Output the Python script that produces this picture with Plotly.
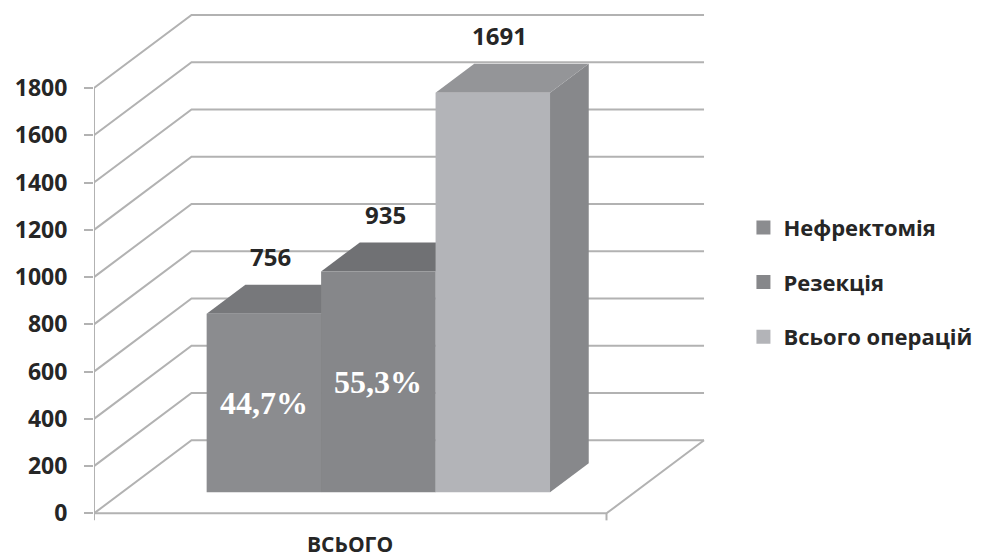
import plotly.graph_objects as go

# ---- data ----
categories = ["ВСЬОГО"]
series_names = ["Нефректомія", "Резекція", "Всього операцій"]
series_values = [756, 935, 1691]
y_ticks = [0, 200, 400, 600, 800, 1000, 1200, 1400, 1600, 1800]

# ---- styling ----
front_colors = ["#8b8c8f", "#86878a", "#b3b4b8"]
top_colors = ["#77787b", "#707174", "#949598"]
side_colors = ["#6e6f72", "#6a6b6e", "#87888b"]
grid_color = "#b2b2b2"
text_color = "#262626"
sans = "Open Sans"

W, H = 985, 558
PLOT_L = 94                 # pixel column of the front axis
UNIT_X_PX = 515             # pixel width of one category on the front plane
Y0_PX = 513                 # pixel row of value 0 on the front plane
Y_PX_PER = 425 / 1800       # pixels per value unit
MARGIN_R, MARGIN_T = 273, 8
Y_MIN = -45

X_MAX = (W - MARGIN_R - PLOT_L) / UNIT_X_PX
Y_MAX = (Y0_PX - MARGIN_T) / Y_PX_PER
MARGIN_B = H - (Y0_PX - Y_MIN * Y_PX_PER)

# oblique projection of the depth axis (full depth of the box)
DEPTH_DX = 98 / UNIT_X_PX
DEPTH_DY = 73 / Y_PX_PER
D_FRONT, D_BACK = 0.288, 0.685     # depth span of the columns
GROUP_WIDTH = 0.67


def proj(u, v, d):
    """Project a point (category position, value, depth) onto the 2D axes."""
    return u + DEPTH_DX * d, v + DEPTH_DY * d


def poly(points, color):
    xs, ys = zip(*[proj(*p) for p in points])
    return go.Scatter(x=list(xs) + [xs[0]], y=list(ys) + [ys[0]], mode="lines",
                      fill="toself", fillcolor=color, line=dict(width=0),
                      hoverinfo="skip", showlegend=False)


def line(points, color, width=2):
    xs, ys = zip(*[proj(*p) for p in points])
    return go.Scatter(x=list(xs), y=list(ys), mode="lines",
                      line=dict(color=color, width=width),
                      hoverinfo="skip", showlegend=False)


fig = go.Figure()

# gridlines: left side wall diagonal + back wall horizontal
for t in y_ticks:
    fig.add_trace(line([(0, t, 0), (0, t, 1), (1, t, 1)], grid_color))

# floor outline and value axis
fig.add_trace(line([(0, 0, 0), (1, 0, 0), (1, 0, 1)], grid_color))
fig.add_trace(line([(0, 0, 0), (0, y_ticks[-1], 0)], grid_color))
tick_drop = 7 / Y_PX_PER
for u in (0, 1):
    fig.add_trace(line([(u, 0, 0), (u, -tick_drop, 0)], grid_color))

# columns
n = len(series_values)
bar_w = GROUP_WIDTH / n
start = 0.5 - GROUP_WIDTH / 2
total = series_values[-1]
annotations = []
for i, (name, v) in enumerate(zip(series_names, series_values)):
    x0 = start + i * bar_w
    x1 = x0 + bar_w
    # right side
    fig.add_trace(poly([(x1, 0, D_FRONT), (x1, 0, D_BACK), (x1, v, D_BACK), (x1, v, D_FRONT)],
                       side_colors[i]))
    # top
    fig.add_trace(poly([(x0, v, D_FRONT), (x1, v, D_FRONT), (x1, v, D_BACK), (x0, v, D_BACK)],
                       top_colors[i]))
    # front
    fig.add_trace(poly([(x0, 0, D_FRONT), (x1, 0, D_FRONT), (x1, v, D_FRONT), (x0, v, D_FRONT)],
                       front_colors[i]))

    # value label above the column
    lx, ly = proj((x0 + x1) / 2, v, 0.36)
    annotations.append(dict(x=lx, y=ly, text=f"{v}", showarrow=False, yshift=52,
                            font=dict(family=sans, size=24, color=text_color, weight="bold")))

    # share of the total on the front face of the component columns
    if i < n - 1:
        share = f"{v / total * 100:.1f}%".replace(".", ",")
        px_, py_ = proj((x0 + x1) / 2, v / 2, D_FRONT)
        annotations.append(dict(x=px_, y=py_, text=share, showarrow=False,
                                font=dict(family="Liberation Serif", size=32,
                                          color="white", weight="bold")))

# legend entries
for i, name in enumerate(series_names):
    fig.add_trace(go.Scatter(x=[None], y=[None], mode="markers", name=name,
                             legendgroup=name,
                             marker=dict(symbol="square", size=14, color=front_colors[i])))

# category label
annotations.append(dict(x=0.5, y=0, text=categories[0], showarrow=False, yshift=-31,
                        font=dict(family=sans, size=21, color=text_color, weight="bold")))

fig.update_layout(
    width=W, height=H,
    margin=dict(l=PLOT_L, r=MARGIN_R, t=MARGIN_T, b=MARGIN_B),
    paper_bgcolor="white", plot_bgcolor="white",
    xaxis=dict(range=[0, X_MAX], visible=False, fixedrange=True),
    yaxis=dict(range=[Y_MIN, Y_MAX], tickvals=y_ticks, showgrid=False, zeroline=False,
               showline=False, ticks="outside", ticklen=9, tickwidth=2, tickcolor=grid_color,
               ticklabelstandoff=12,
               tickfont=dict(family=sans, size=23, color=text_color, weight="bold")),
    showlegend=True,
    legend=dict(x=1.056, y=0.4686, xanchor="left", yanchor="middle",
                tracegroupgap=23, bgcolor="rgba(0,0,0,0)",
                font=dict(family=sans, size=22, color=text_color, weight="bold")),
    annotations=annotations,
)

fig.write_html("out.html")
